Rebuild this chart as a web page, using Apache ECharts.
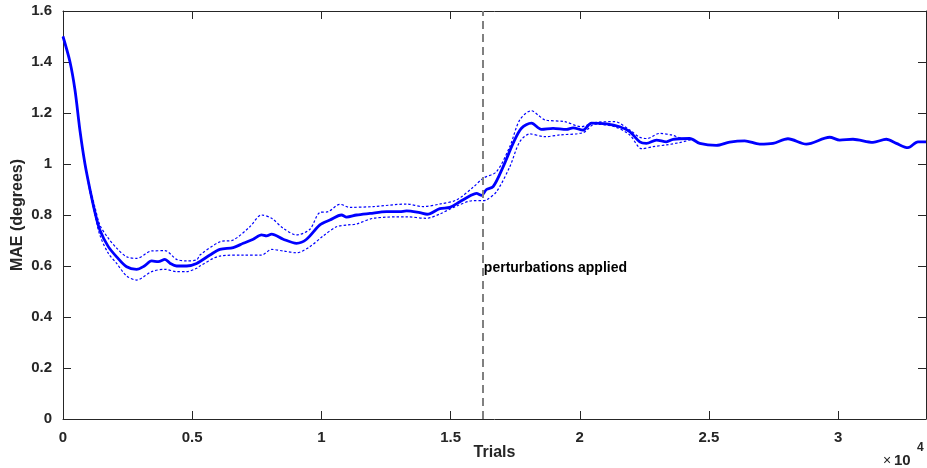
<!DOCTYPE html>
<html>
<head>
<meta charset="utf-8">
<script src="https://cdn.jsdelivr.net/npm/echarts@6/dist/echarts.min.js"></script>
<style>
  html, body { margin: 0; padding: 0; background: #fff; }
  #chart { width: 927px; height: 468px; }
</style>
</head>
<body>
<div id="chart"></div>
<script>
// mean MAE curve (trials, degrees)
const meanX = [0, 271, 464, 658, 851, 1044, 1238, 1431, 1753, 2076, 2463, 2850, 3150, 3431, 3688, 3946, 4150, 4398, 4785, 5172,
  5687, 6074, 6589, 6975, 7362, 7685, 7880, 8074, 8523, 9040, 9427, 9942, 10329, 10780, 10974, 11361, 11876, 12522, 13037,
  13295, 13810, 14093, 14584, 14971, 15358, 15810, 16000, 16200, 16390, 16647, 17033, 17420, 17743, 18130, 18517, 18967,
  19485, 19742, 20128, 20452, 21032, 21547, 21934, 22321, 22579, 22966, 23353, 23610, 24255, 24642, 25287, 25802, 26383,
  26963, 27479, 28058, 28769, 29671, 30058, 30574, 31347, 31864, 32251, 32701, 33088, 33400]
const meanY = [1.50, 1.40, 1.29, 1.13, 1.00, 0.90, 0.81, 0.74, 0.676, 0.636, 0.597, 0.587, 0.60, 0.62, 0.617, 0.626, 0.61, 0.60, 0.60, 0.61,
  0.643, 0.665, 0.672, 0.689, 0.705, 0.722, 0.718, 0.725, 0.705, 0.689, 0.705, 0.761, 0.78, 0.80, 0.792, 0.80, 0.806, 0.813, 0.813,
  0.816, 0.809, 0.803, 0.825, 0.83, 0.852, 0.878, 0.885, 0.877, 0.90, 0.911, 0.989, 1.081, 1.14, 1.16, 1.136, 1.14,
  1.136, 1.142, 1.133, 1.16, 1.157, 1.146, 1.127, 1.087, 1.081, 1.094, 1.087, 1.097, 1.10, 1.081, 1.073, 1.086, 1.091,
  1.078, 1.081, 1.099, 1.078, 1.105, 1.094, 1.097, 1.085, 1.097, 1.081, 1.064, 1.087, 1.087]

// upper confidence bound
const upperX = [0, 271, 464, 658, 851, 1044, 1238, 1431, 1753, 2076, 2463, 2850, 3431, 3946, 4398, 4785, 5172, 5300, 6074, 6589,
  7233, 7685, 8074, 8523, 9040, 9556, 9942, 10265, 10716, 11103, 12006, 13295, 13940, 14584, 15229, 15874, 16261, 16776,
  17291, 17678, 18130, 18388, 18645, 19421, 20065, 20516, 21355, 21934, 22321, 22600, 23095, 23546, 23997, 24300]
const upperY = [1.50, 1.40, 1.29, 1.13, 1.00, 0.91, 0.83, 0.76, 0.709, 0.67, 0.636, 0.63, 0.659, 0.66, 0.626, 0.62, 0.624, 0.643, 0.695, 0.702,
  0.754, 0.80, 0.787, 0.748, 0.722, 0.744, 0.81, 0.813, 0.842, 0.83, 0.833, 0.843, 0.833, 0.843, 0.859, 0.909, 0.944, 0.97,
  1.068, 1.173, 1.209, 1.192, 1.173, 1.166, 1.146, 1.162, 1.166, 1.133, 1.105, 1.10, 1.12, 1.114, 1.10, 1.10]

// lower confidence bound
const lowerX = [0, 271, 464, 658, 851, 1044, 1238, 1431, 1753, 2076, 2463, 2850, 3431, 3946, 4398, 4785, 5172, 5300, 6074, 6975,
  7685, 8074, 8523, 9040, 9556, 10071, 10587, 11039, 11361, 12006, 13295, 14068, 14584, 15229, 15874, 16261, 16390, 16776,
  17291, 17678, 18066, 18645, 19227, 20130, 20581, 21355, 21934, 22400, 22837, 23353, 23868, 24300]
const lowerY = [1.50, 1.40, 1.29, 1.13, 1.00, 0.89, 0.80, 0.72, 0.65, 0.61, 0.561, 0.545, 0.578, 0.587, 0.578, 0.578, 0.591, 0.60, 0.639, 0.643,
  0.643, 0.665, 0.659, 0.652, 0.676, 0.718, 0.754, 0.761, 0.765, 0.787, 0.793, 0.787, 0.804, 0.835, 0.856, 0.856, 0.859, 0.891,
  0.989, 1.087, 1.118, 1.107, 1.114, 1.123, 1.156, 1.146, 1.114, 1.06, 1.068, 1.075, 1.084, 1.095]

const perturbAt = 16250
const xTicks = [0, 5000, 10000, 15000, 20000, 25000, 30000]

const pairs = (xs, ys) => xs.map((x, i) => [x, ys[i]])

const chart = echarts.init(document.getElementById('chart'))

const font = 'Liberation Sans, Arial, Helvetica, sans-serif'
const ink = '#262626'

const baseX = {
  type: 'value',
  min: 0,
  max: 33400,
  interval: 5000,
  splitLine: { show: false },
  axisLine: { onZero: false, lineStyle: { color: ink, width: 1 } },
  axisTick: { inside: true, length: 8, lineStyle: { color: ink } }
}
const baseY = {
  type: 'value',
  min: 0,
  max: 1.6,
  interval: 0.2,
  splitLine: { show: false },
  axisLine: { onZero: false, lineStyle: { color: ink, width: 1 } },
  axisTick: { inside: true, length: 8, lineStyle: { color: ink } }
}

const option = {
  animation: false,
  grid: { left: 63, right: 1, top: 11, bottom: 49, outerBoundsMode: 'none', containLabel: false },
  xAxis: [
    {
      ...baseX,
      position: 'bottom',
      name: 'Trials',
      nameLocation: 'middle',
      nameGap: 26,
      nameMoveOverlap: false,
      nameTextStyle: { fontFamily: font, fontWeight: 'bold', fontSize: 16, color: ink },
      axisLabel: {
        margin: 11,
        showMaxLabel: false,
        fontFamily: font, fontWeight: 'bold', fontSize: 15, color: ink,
        formatter: v => xTicks.includes(v) ? String(v / 10000) : ''
      }
    },
    { ...baseX, position: 'top', axisLabel: { show: false } }
  ],
  yAxis: [
    {
      ...baseY,
      position: 'left',
      name: 'MAE (degrees)',
      nameLocation: 'middle',
      nameGap: 37,
      nameMoveOverlap: false,
      nameTextStyle: { fontFamily: font, fontWeight: 'bold', fontSize: 16, color: ink },
      axisLabel: { margin: 11, fontFamily: font, fontWeight: 'bold', fontSize: 15, color: ink }
    },
    { ...baseY, position: 'right', axisLabel: { show: false } }
  ],
  series: [
    {
      name: 'upper',
      type: 'line',
      data: pairs(upperX, upperY),
      showSymbol: false,
      smooth: 0.3,
      lineStyle: { color: '#0000ff', width: 1.2, type: [2.5, 2] },
      z: 2
    },
    {
      name: 'lower',
      type: 'line',
      data: pairs(lowerX, lowerY),
      showSymbol: false,
      smooth: 0.3,
      lineStyle: { color: '#0000ff', width: 1.2, type: [2.5, 2] },
      z: 2
    },
    {
      name: 'mean',
      type: 'line',
      data: pairs(meanX, meanY),
      showSymbol: false,
      smooth: 0.3,
      lineStyle: { color: '#0000ff', width: 2.8 },
      z: 3,
      markLine: {
        silent: true,
        symbol: 'none',
        label: { show: false },
        lineStyle: { color: '#808080', width: 2, type: [8, 5] },
        data: [{ xAxis: perturbAt }]
      }
    }
  ]
}

chart.setOption(option)

// annotation text and the axis exponent
const p = chart.convertToPixel({ gridIndex: 0 }, [perturbAt, 0.59])
chart.setOption({
  graphic: [
    {
      type: 'text',
      left: p[0] + 1,
      top: p[1] - 7,
      style: { text: 'perturbations applied', font: 'bold 14px ' + font, fill: '#000' }
    },
    {
      type: 'text',
      left: 883,
      top: 454,
      style: { text: '×', font: '14px ' + font, fill: ink }
    },
    {
      type: 'text',
      left: 894,
      top: 453,
      style: { text: '10', font: 'bold 15px ' + font, fill: ink }
    },
    {
      type: 'text',
      left: 917,
      top: 442,
      style: { text: '4', font: 'bold 12px ' + font, fill: ink }
    }
  ]
})
</script>
</body>
</html>
